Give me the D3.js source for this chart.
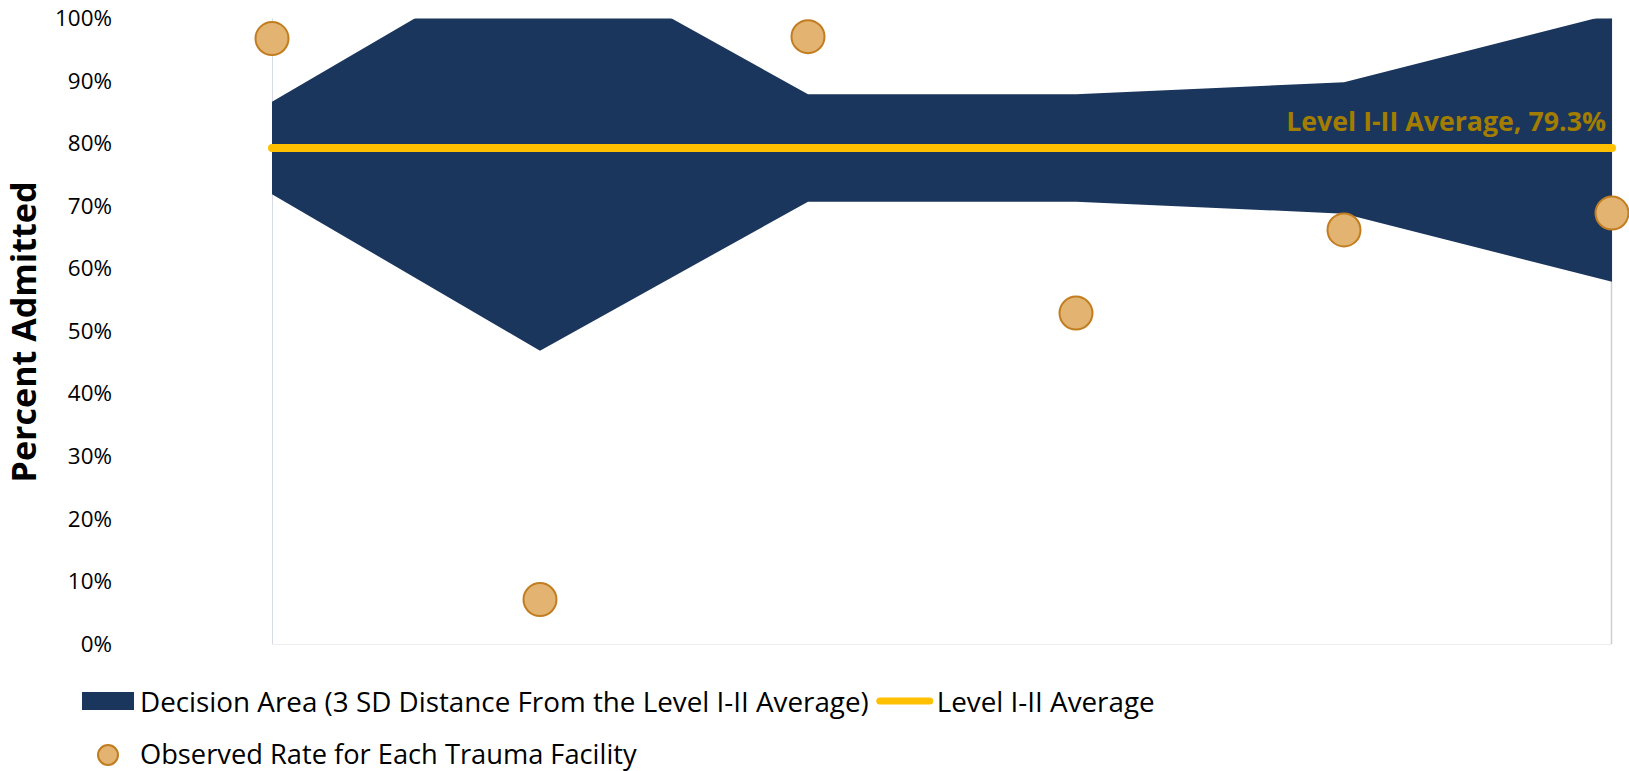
<!DOCTYPE html>
<html>
<head>
<meta charset="utf-8">
<script src="https://cdn.jsdelivr.net/npm/d3@7"></script>
<style>
  html, body { margin: 0; padding: 0; background: #ffffff; }
  svg { display: block; }
</style>
</head>
<body>
<svg id="chart" width="1629" height="771"></svg>
<script>
// ---- data ----
const facilities = ["Facility 1", "Facility 2", "Facility 3", "Facility 4", "Facility 5", "Facility 6"];
const observedRate = [96.8, 7.1, 97.1, 52.9, 66.2, 68.9];
const upperLimit = [86.7, 111.7, 87.9, 87.9, 89.8, 100.7];
const lowerLimit = [71.9, 46.9, 70.7, 70.7, 68.8, 57.9];
const levelAverage = 79.3;
const yTicks = [0, 10, 20, 30, 40, 50, 60, 70, 80, 90, 100];
const averageLabel = "Level I-II Average, 79.3%";
const yTitle = "Percent Admitted";
const legendLabels = ["Decision Area (3 SD Distance From the Level I-II Average)", "Level I-II Average", "Observed Rate for Each Trauma Facility"];

// ---- layout ----
const FONT = "'Open Sans', Lato, sans-serif";
const plot = { left: 272, right: 1612, top: 18.5, bottom: 644 };
const svg = d3.select("#chart");

// scale a text's font-size so its rendered width equals a target width
function fitWidth(sel, target) {
  const s = parseFloat(sel.attr("font-size") || sel.node().parentNode.getAttribute("font-size"));
  const w = sel.node().getComputedTextLength();
  if (w > 0) sel.attr("font-size", (s * target / w).toFixed(2));
  return sel;
}

const x = d3.scalePoint().domain(facilities).range([plot.left, plot.right]);
const y = d3.scaleLinear().domain([0, 100]).range([plot.bottom, plot.top]);

const rows = facilities.map((f, i) => ({ f, obs: observedRate[i], hi: upperLimit[i], lo: lowerLimit[i] }));

svg.append("defs").append("clipPath").attr("id", "plotClip")
  .append("rect")
  .attr("x", plot.left).attr("y", plot.top)
  .attr("width", plot.right - plot.left).attr("height", plot.bottom - plot.top);

// frame lines (light)
svg.append("line").attr("x1", plot.left).attr("x2", plot.right)
  .attr("y1", plot.bottom + 0.5).attr("y2", plot.bottom + 0.5)
  .attr("stroke", "#eeeeee").attr("stroke-width", 1);
svg.append("line").attr("x1", plot.left + 0.5).attr("x2", plot.left + 0.5)
  .attr("y1", plot.top).attr("y2", plot.bottom)
  .attr("stroke", "#d6dbe3").attr("stroke-width", 1);
svg.append("line").attr("x1", plot.right - 0.5).attr("x2", plot.right - 0.5)
  .attr("y1", plot.top).attr("y2", plot.bottom)
  .attr("stroke", "#cfcfcf").attr("stroke-width", 1.5);

// y axis (labels only)
const yAxis = d3.axisLeft(y).tickValues(yTicks).tickFormat(d => d + "%").tickSize(0).tickPadding(0);
const gy = svg.append("g").attr("transform", `translate(112,0)`).call(yAxis);
gy.select(".domain").remove();
gy.selectAll("text").attr("font-family", FONT).attr("font-size", 20).attr("fill", "#000");
{
  const t100 = gy.selectAll("text").filter(d => d === 100);
  const w = t100.node().getComputedTextLength();
  gy.selectAll("text").attr("font-size", (20 * 57 / w).toFixed(2));
}

// decision area
const area = d3.area().x(d => x(d.f)).y0(d => y(d.lo)).y1(d => y(d.hi));
svg.append("path").datum(rows)
  .attr("clip-path", "url(#plotClip)")
  .attr("d", area)
  .attr("fill", "#1b365d");

// average line
svg.append("line")
  .attr("x1", plot.left).attr("x2", plot.right)
  .attr("y1", y(levelAverage)).attr("y2", y(levelAverage))
  .attr("stroke", "#ffc000").attr("stroke-width", 8).attr("stroke-linecap", "round");

// average label
fitWidth(svg.append("text")
  .attr("x", 1606).attr("y", 131)
  .attr("text-anchor", "end")
  .attr("font-family", FONT).attr("font-weight", "bold").attr("font-size", 26)
  .attr("fill", "#a27d00")
  .text(averageLabel), 320);

// observed points
svg.append("g").selectAll("circle").data(rows).join("circle")
  .attr("cx", d => x(d.f)).attr("cy", d => y(d.obs)).attr("r", 16.5)
  .attr("fill", "#e3b372").attr("stroke", "#c17d1f").attr("stroke-width", 2);

// y title
fitWidth(svg.append("text")
  .attr("transform", `translate(23,332) rotate(-90)`)
  .attr("text-anchor", "middle")
  .attr("dominant-baseline", "central")
  .attr("font-family", FONT).attr("font-weight", "bold").attr("font-size", 28)
  .attr("fill", "#000")
  .text(yTitle), 301);

// legend
const lg = svg.append("g").attr("font-family", FONT).attr("font-size", 25).attr("fill", "#000");
lg.append("rect").attr("x", 82).attr("y", 692).attr("width", 52).attr("height", 18).attr("fill", "#1b365d");
const t1 = fitWidth(lg.append("text").attr("x", 140).attr("y", 701).attr("font-size", 25)
  .attr("dominant-baseline", "central").text(legendLabels[0]), 729);
const fs = +t1.attr("font-size");
const w1 = t1.node().getComputedTextLength();
const lx = 140 + w1 + 8;
lg.append("line").attr("x1", lx + 3).attr("x2", lx + 53).attr("y1", 701).attr("y2", 701)
  .attr("stroke", "#ffc000").attr("stroke-width", 7).attr("stroke-linecap", "round");
lg.append("text").attr("x", lx + 60).attr("y", 701).attr("font-size", fs)
  .attr("dominant-baseline", "central").text(legendLabels[1]);
lg.append("circle").attr("cx", 108).attr("cy", 755).attr("r", 10)
  .attr("fill", "#e3b372").attr("stroke", "#c17d1f").attr("stroke-width", 2);
lg.append("text").attr("x", 140).attr("y", 753).attr("font-size", fs * 0.98)
  .attr("dominant-baseline", "central").text(legendLabels[2]);
</script>
</body>
</html>
